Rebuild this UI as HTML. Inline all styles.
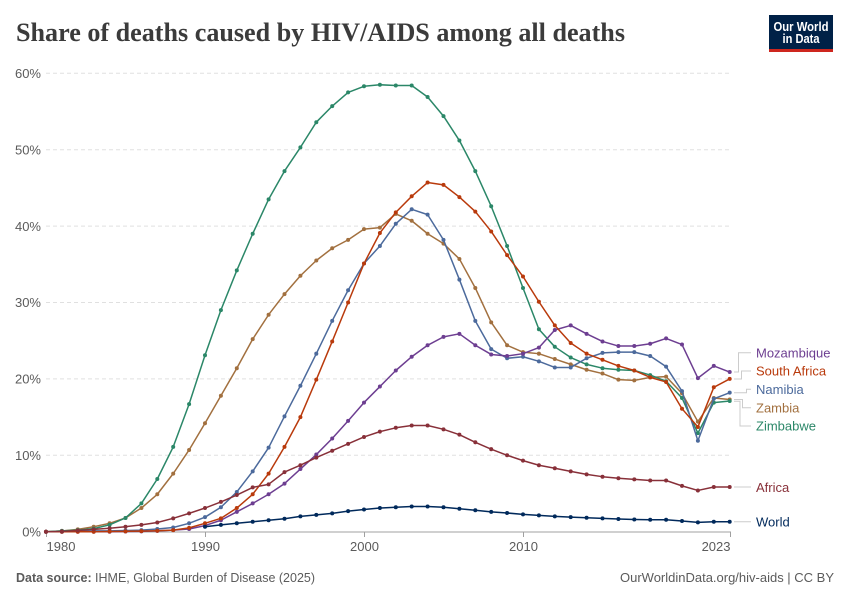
<!DOCTYPE html>
<html>
<head>
<meta charset="utf-8">
<style>
  html, body { margin: 0; padding: 0; background: #fff; }
  svg { display: block; }
  .ax { font-family: "Liberation Sans", Arial, sans-serif; font-size: 13px; fill: #5b5b5b; }
  .lg { font-family: "Liberation Sans", Arial, sans-serif; font-size: 13px; }
</style>
</head>
<body>
<svg width="850" height="600" viewBox="0 0 850 600" xmlns="http://www.w3.org/2000/svg">
  <defs>
    <marker id="mZi" markerUnits="userSpaceOnUse" markerWidth="1" markerHeight="1" refX="0" refY="0" overflow="visible"><ellipse rx="0.126" ry="0.262" fill="#2b8768"/></marker>
    <marker id="mZa" markerUnits="userSpaceOnUse" markerWidth="1" markerHeight="1" refX="0" refY="0" overflow="visible"><ellipse rx="0.126" ry="0.262" fill="#a2703f"/></marker>
    <marker id="mNa" markerUnits="userSpaceOnUse" markerWidth="1" markerHeight="1" refX="0" refY="0" overflow="visible"><ellipse rx="0.126" ry="0.262" fill="#4c6a9c"/></marker>
    <marker id="mSA" markerUnits="userSpaceOnUse" markerWidth="1" markerHeight="1" refX="0" refY="0" overflow="visible"><ellipse rx="0.126" ry="0.262" fill="#b93a0c"/></marker>
    <marker id="mMo" markerUnits="userSpaceOnUse" markerWidth="1" markerHeight="1" refX="0" refY="0" overflow="visible"><ellipse rx="0.126" ry="0.262" fill="#6d3e91"/></marker>
    <marker id="mAf" markerUnits="userSpaceOnUse" markerWidth="1" markerHeight="1" refX="0" refY="0" overflow="visible"><ellipse rx="0.126" ry="0.262" fill="#883039"/></marker>
    <marker id="mWo" markerUnits="userSpaceOnUse" markerWidth="1" markerHeight="1" refX="0" refY="0" overflow="visible"><ellipse rx="0.126" ry="0.262" fill="#00295b"/></marker>
  </defs>

  <rect x="0" y="0" width="850" height="600" fill="#ffffff"/>

  <!-- Title -->
  <text x="16" y="41" font-family="'Liberation Serif', serif" font-size="26.5" font-weight="bold" fill="#3b3b3b" textLength="609" lengthAdjust="spacingAndGlyphs">Share of deaths caused by HIV/AIDS among all deaths</text>

  <!-- Logo -->
  <rect x="769" y="15" width="64" height="37" fill="#002147"/>
  <rect x="769" y="49" width="64" height="3" fill="#ce261e"/>
  <text x="801" y="31" text-anchor="middle" font-family="'Liberation Sans', Arial, sans-serif" font-size="12.5" font-weight="bold" fill="#ffffff" textLength="55" lengthAdjust="spacingAndGlyphs">Our World</text>
  <text x="801" y="43" text-anchor="middle" font-family="'Liberation Sans', Arial, sans-serif" font-size="12.5" font-weight="bold" fill="#ffffff" textLength="37" lengthAdjust="spacingAndGlyphs">in Data</text>

  <!-- Grid lines -->
  <g stroke="#e0e0e0" stroke-width="1" stroke-dasharray="4 3">
    <line x1="46" x2="731" y1="73.3" y2="73.3"/>
    <line x1="46" x2="731" y1="149.7" y2="149.7"/>
    <line x1="46" x2="731" y1="226.1" y2="226.1"/>
    <line x1="46" x2="731" y1="302.5" y2="302.5"/>
    <line x1="46" x2="731" y1="378.9" y2="378.9"/>
    <line x1="46" x2="731" y1="455.3" y2="455.3"/>
  </g>

  <!-- Y labels -->
  <g class="ax" text-anchor="end">
    <text x="41" y="78">60%</text>
    <text x="41" y="154.4">50%</text>
    <text x="41" y="230.8">40%</text>
    <text x="41" y="307.2">30%</text>
    <text x="41" y="383.6">20%</text>
    <text x="41" y="460">10%</text>
    <text x="41" y="536.4">0%</text>
  </g>

  <!-- X axis -->
  <line x1="46" x2="731" y1="532" y2="532" stroke="#a0a0a0" stroke-width="1"/>
  <g stroke="#a0a0a0" stroke-width="1">
    <line x1="46.5" x2="46.5" y1="532" y2="537"/>
    <line x1="205.5" x2="205.5" y1="532" y2="537"/>
    <line x1="364.5" x2="364.5" y1="532" y2="537"/>
    <line x1="523.5" x2="523.5" y1="532" y2="537"/>
    <line x1="730.5" x2="730.5" y1="532" y2="537"/>
  </g>
  <g class="ax">
    <text x="46.5" y="551">1980</text>
    <text x="205.5" y="551" text-anchor="middle">1990</text>
    <text x="364.5" y="551" text-anchor="middle">2000</text>
    <text x="523.5" y="551" text-anchor="middle">2010</text>
    <text x="730.5" y="551" text-anchor="end">2023</text>
  </g>

  <!-- Series -->
  <g transform="translate(46 531.7) scale(15.9 -7.64)" fill="none" stroke-width="1.5" stroke-linejoin="round" stroke-linecap="round">
    <polyline vector-effect="non-scaling-stroke" stroke="#a2703f" marker-start="url(#mZa)" marker-mid="url(#mZa)" marker-end="url(#mZa)"
      points="0,0 1,0.1 2,0.3 3,0.65 4,1.1 5,1.8 6,3.1 7,4.9 8,7.6 9,10.7 10,14.2 11,17.8 12,21.4 13,25.2 14,28.4 15,31.1 16,33.5 17,35.5 18,37.1 19,38.2 20,39.6 21,39.8 22,41.6 23,40.7 24,39 25,37.7 26,35.7 27,31.9 28,27.4 29,24.4 30,23.5 31,23.3 32,22.6 33,21.9 34,21.2 35,20.7 36,19.9 37,19.8 38,20.2 39,20.3 40,18.1 41,14.4 42,17.5 43,17.3"/>
    <polyline vector-effect="non-scaling-stroke" stroke="#2b8768" marker-start="url(#mZi)" marker-mid="url(#mZi)" marker-end="url(#mZi)"
      points="0,0 1,0.1 2,0.2 3,0.4 4,0.9 5,1.8 6,3.7 7,6.9 8,11.1 9,16.7 10,23.1 11,29 12,34.2 13,39 14,43.5 15,47.2 16,50.3 17,53.6 18,55.7 19,57.5 20,58.3 21,58.5 22,58.4 23,58.4 24,56.9 25,54.4 26,51.2 27,47.2 28,42.6 29,37.4 30,31.9 31,26.5 32,24.2 33,22.8 34,21.9 35,21.4 36,21.2 37,21.1 38,20.5 39,19.7 40,17.5 41,12.9 42,16.9 43,17.1"/>
    <polyline vector-effect="non-scaling-stroke" stroke="#4c6a9c" marker-start="url(#mNa)" marker-mid="url(#mNa)" marker-end="url(#mNa)"
      points="0,0 1,0 2,0.05 3,0.1 4,0.1 5,0.15 6,0.2 7,0.35 8,0.55 9,1.1 10,1.9 11,3.2 12,5.2 13,7.9 14,11 15,15.1 16,19.1 17,23.3 18,27.6 19,31.6 20,35.1 21,37.4 22,40.3 23,42.2 24,41.5 25,38.2 26,33 27,27.6 28,23.9 29,22.7 30,22.9 31,22.3 32,21.5 33,21.5 34,22.7 35,23.4 36,23.5 37,23.5 38,23 39,21.6 40,18.4 41,11.9 42,17.4 43,18.2"/>
    <polyline vector-effect="non-scaling-stroke" stroke="#6d3e91" marker-start="url(#mMo)" marker-mid="url(#mMo)" marker-end="url(#mMo)"
      points="0,0 1,0 2,0 3,0 4,0 5,0.02 6,0.05 7,0.1 8,0.2 9,0.35 10,0.8 11,1.5 12,2.6 13,3.7 14,4.9 15,6.3 16,8.2 17,10.1 18,12.2 19,14.5 20,16.9 21,19 22,21.1 23,22.9 24,24.4 25,25.5 26,25.9 27,24.4 28,23.2 29,23 30,23.3 31,24.1 32,26.4 33,27 34,25.9 35,24.9 36,24.3 37,24.3 38,24.6 39,25.3 40,24.5 41,20.1 42,21.7 43,20.9"/>
    <polyline vector-effect="non-scaling-stroke" stroke="#b93a0c" marker-start="url(#mSA)" marker-mid="url(#mSA)" marker-end="url(#mSA)"
      points="0,0 1,0 2,0 3,0 4,0.02 5,0.05 6,0.08 7,0.12 8,0.2 9,0.5 10,1.1 11,1.75 12,3.1 13,4.9 14,7.6 15,11.1 16,15 17,19.9 18,24.9 19,30 20,35.1 21,39.1 22,41.8 23,43.9 24,45.7 25,45.4 26,43.8 27,41.9 28,39.3 29,36.2 30,33.4 31,30.1 32,27 33,24.7 34,23.3 35,22.5 36,21.7 37,21.1 38,20.2 39,19.6 40,16.1 41,13.7 42,18.9 43,20"/>
    <polyline vector-effect="non-scaling-stroke" stroke="#883039" marker-start="url(#mAf)" marker-mid="url(#mAf)" marker-end="url(#mAf)"
      points="0,0 1,0.05 2,0.15 3,0.3 4,0.45 5,0.65 6,0.9 7,1.2 8,1.75 9,2.4 10,3.1 11,3.9 12,4.8 13,5.8 14,6.2 15,7.8 16,8.7 17,9.7 18,10.6 19,11.5 20,12.4 21,13.1 22,13.6 23,13.9 24,13.9 25,13.4 26,12.7 27,11.7 28,10.8 29,10 30,9.3 31,8.7 32,8.3 33,7.9 34,7.5 35,7.2 36,7 37,6.85 38,6.7 39,6.7 40,6 41,5.4 42,5.85 43,5.85"/>
    <polyline vector-effect="non-scaling-stroke" stroke="#00295b" marker-start="url(#mWo)" marker-mid="url(#mWo)" marker-end="url(#mWo)"
      points="10,0.65 11,0.9 12,1.1 13,1.3 14,1.5 15,1.7 16,2 17,2.2 18,2.4 19,2.7 20,2.9 21,3.1 22,3.2 23,3.3 24,3.3 25,3.2 26,3 27,2.8 28,2.6 29,2.45 30,2.27 31,2.14 32,2 33,1.9 34,1.83 35,1.75 36,1.66 37,1.6 38,1.57 39,1.57 40,1.4 41,1.22 42,1.3 43,1.3"/>
  </g>

  <!-- Legend connectors -->
  <g fill="none" stroke="#cccccc" stroke-width="1">
    <path d="M734 372 H738.5 V352.7 H751"/>
    <path d="M734 379 H741.5 V371 H751"/>
    <path d="M734 392.7 H746.5 V389.3 H751"/>
    <path d="M734 399.5 H742.5 V407.7 H751"/>
    <path d="M734 401.2 H740 V426 H751"/>
    <path d="M734 487 H751"/>
    <path d="M734 521.8 H751"/>
  </g>

  <!-- Legend labels -->
  <g class="lg">
    <text x="756" y="357.3" fill="#6d3e91">Mozambique</text>
    <text x="756" y="375.6" fill="#b93a0c">South Africa</text>
    <text x="756" y="393.9" fill="#4c6a9c">Namibia</text>
    <text x="756" y="412.3" fill="#a2703f">Zambia</text>
    <text x="756" y="430.6" fill="#2b8768">Zimbabwe</text>
    <text x="756" y="491.9" fill="#883039">Africa</text>
    <text x="756" y="526.6" fill="#00295b">World</text>
  </g>

  <!-- Footer -->
  <text x="16" y="582" font-family="'Liberation Sans', Arial, sans-serif" font-size="13" fill="#5b5b5b" textLength="299" lengthAdjust="spacingAndGlyphs"><tspan font-weight="bold">Data source:</tspan> IHME, Global Burden of Disease (2025)</text>
  <text x="834" y="582" text-anchor="end" font-family="'Liberation Sans', Arial, sans-serif" font-size="13" fill="#5b5b5b" textLength="214" lengthAdjust="spacingAndGlyphs">OurWorldinData.org/hiv-aids | CC BY</text>
</svg>
</body>
</html>
